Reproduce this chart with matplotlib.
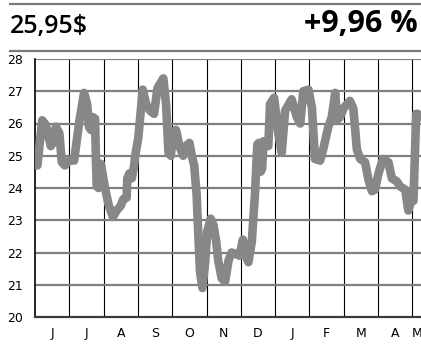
import numpy as np
import matplotlib.pyplot as plt
from matplotlib.lines import Line2D

# closing price over the last twelve months (x = months since start)
months = [0.00, 0.07, 0.21, 0.32, 0.46, 0.52, 0.61, 0.71, 0.78, 0.87,
          1.00, 1.14, 1.29, 1.43, 1.52, 1.57, 1.63, 1.68, 1.75, 1.78,
          1.80, 1.85, 1.92, 2.04, 2.14, 2.27, 2.38, 2.50, 2.57, 2.67,
          2.69, 2.75, 2.82, 2.89, 2.92, 3.01, 3.14, 3.24, 3.35, 3.47,
          3.57, 3.74, 3.82, 3.89, 3.96, 4.03, 4.11, 4.21, 4.32, 4.40,
          4.50, 4.57, 4.64, 4.71, 4.76, 4.81, 4.88, 4.96, 5.02, 5.12,
          5.20, 5.28, 5.34, 5.44, 5.54, 5.64, 5.73, 5.86, 5.96, 6.06,
          6.12, 6.22, 6.32, 6.41, 6.48, 6.53, 6.57, 6.62, 6.66, 6.80,
          6.85, 6.97, 7.09, 7.19, 7.29, 7.48, 7.63, 7.73, 7.82, 7.97,
          8.07, 8.16, 8.31, 8.41, 8.55, 8.65, 8.75, 8.80, 8.89, 9.01,
          9.18, 9.28, 9.38, 9.48, 9.62, 9.72, 9.82, 9.91, 10.01, 10.14,
          10.30, 10.40, 10.55, 10.64, 10.79, 10.88, 10.98, 11.03, 11.11, 11.15,
          11.25]
price = [24.90, 24.70, 26.10, 25.95, 25.30, 25.40, 25.90, 25.70, 24.80, 24.70,
         24.85, 24.85, 26.05, 26.95, 26.60, 25.90, 25.80, 26.20, 26.15, 24.70,
         24.05, 24.00, 24.75, 24.00, 23.50, 23.10, 23.30, 23.45, 23.65, 23.70,
         24.30, 24.45, 24.30, 24.70, 25.00, 25.55, 27.05, 26.60, 26.40, 26.30,
         27.10, 27.40, 26.60, 25.10, 25.00, 25.75, 25.80, 25.30, 25.00, 25.30,
         25.40, 25.00, 24.70, 23.80, 22.55, 21.40, 20.90, 21.70, 22.65, 23.05,
         22.85, 22.35, 21.75, 21.20, 21.10, 21.75, 22.00, 21.95, 21.90, 22.40,
         21.95, 21.70, 22.35, 23.80, 25.35, 25.40, 24.50, 24.60, 25.45, 25.30,
         26.60, 26.80, 25.70, 25.10, 26.40, 26.75, 26.20, 26.00, 27.00, 27.05,
         26.50, 24.90, 24.85, 25.25, 25.90, 26.20, 26.95, 26.10, 26.20, 26.50,
         26.70, 26.45, 25.20, 24.90, 24.80, 24.25, 23.90, 23.95, 24.45, 24.90,
         24.80, 24.30, 24.20, 24.05, 23.95, 23.30, 23.65, 23.60, 26.30, 26.30,
         26.20]

month_labels = ["J", "J", "A", "S", "O", "N", "D", "J", "F", "M", "A", "M"]
month_pos = [0.5, 1.5, 2.5, 3.5, 4.5, 5.5, 6.5, 7.5, 8.5, 9.5, 10.5, 11.13]
y_ticks = [20, 21, 22, 23, 24, 25, 26, 27, 28]

last_price = "25,95$"
change = "+9,96 %"

fig = plt.figure(figsize=(4.21, 3.45), dpi=100)
ax = fig.add_axes([35 / 421, 28 / 345, 1 - 35 / 421, 258 / 345])

# month separators (thin black) and price levels (thicker grey)
for m in range(1, 12):
    ax.axvline(m, color="black", lw=0.8, zorder=1)
for v in y_ticks[1:]:
    ax.axhline(v, color="#7f7f7f", lw=1.6, zorder=1)

ax.plot(months, price, color="#878787", lw=6.2, solid_joinstyle="round",
        solid_capstyle="round", zorder=3)

ax.set_xlim(0, 11.25)
ax.set_ylim(20, 28)
ax.set_yticks(y_ticks)
ax.set_xticks(month_pos)
ax.set_xticklabels(month_labels)
ax.tick_params(length=0, labelsize=9, pad=7)
ax.tick_params(axis="y", pad=9)
for lbl in ax.get_xticklabels() + ax.get_yticklabels():
    lbl.set_family(["Liberation Sans Narrow", "DejaVu Sans"])

for side in ("top", "right"):
    ax.spines[side].set_visible(False)
ax.spines["left"].set_color("black")
ax.spines["left"].set_linewidth(1.2)
ax.spines["bottom"].set_color("#3a3a3a")
ax.spines["bottom"].set_linewidth(1.6)
ax.spines["bottom"].set_zorder(4)

# header rules and figures
for yy in (1 - 3.5 / 345, 1 - 50.5 / 345):
    fig.add_artist(Line2D([10 / 421, 1], [yy, yy], color="#7a7a7a", lw=1.6))
fig.text(10 / 421, 1 - 33 / 345, last_price, fontsize=18, family="Open Sans",
         weight="semibold", ha="left", va="baseline")
fig.text(418 / 421, 1 - 32 / 345, change, fontsize=22, family="Open Sans",
         weight="bold", ha="right", va="baseline")

fig.savefig("out.png", dpi=100)
